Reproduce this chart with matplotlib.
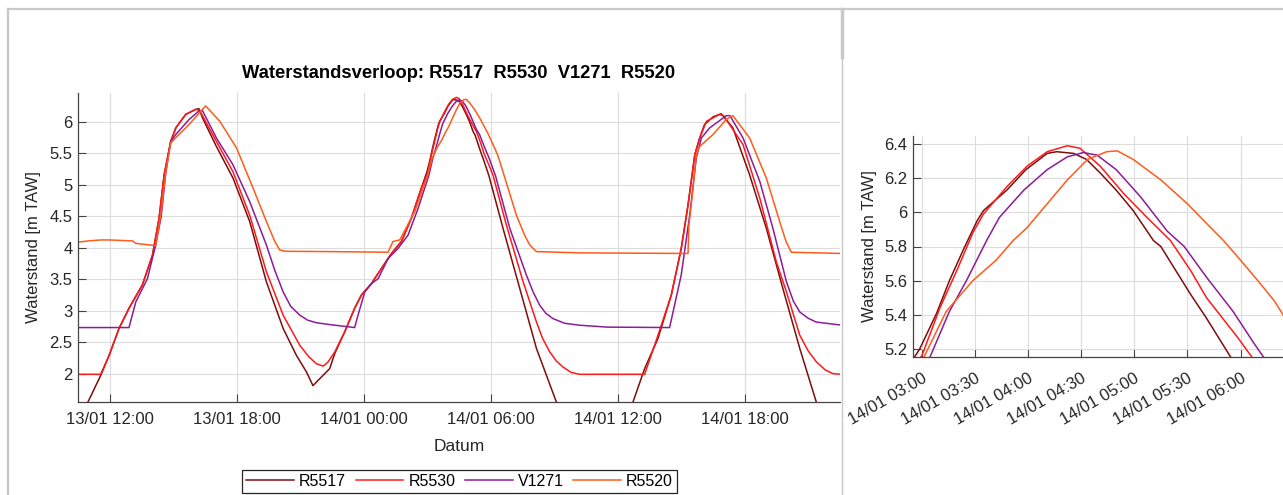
import matplotlib
matplotlib.use("Agg")
import matplotlib.pyplot as plt
import matplotlib.dates as mdates
from matplotlib.lines import Line2D
from matplotlib.ticker import FormatStrFormatter
import pandas as pd

plt.rcParams['font.family'] = ['Liberation Sans', 'DejaVu Sans']

# hours since 13/01 00:00, waterstand [m TAW]
r5517 = [(10.5, 1.22), (10.97, 1.55), (11.57, 1.97), (11.97, 2.29), (12.44, 2.72), (12.91, 3.04),
         (13.54, 3.41), (14.02, 3.885), (14.33, 4.47), (14.57, 5.16), (14.88, 5.69), (15.12, 5.905),
         (15.59, 6.12), (16.06, 6.2), (16.22, 6.21), (16.4, 6.05), (17.04, 5.61), (17.82, 5.11),
         (18.61, 4.42), (19.4, 3.46), (20.19, 2.72), (20.82, 2.29), (21.29, 2.03), (21.6, 1.81),
         (21.92, 1.92), (22.39, 2.08), (22.63, 2.32), (23.1, 2.665), (23.57, 3.04), (23.89, 3.25),
         (24.36, 3.43), (24.83, 3.67), (25.31, 3.91), (25.78, 4.1), (26.25, 4.47), (26.72, 4.95),
         (26.98, 5.2), (27.14, 5.41), (27.26, 5.6), (27.39, 5.78), (27.52, 5.95), (27.58, 6.01),
         (27.8, 6.13), (27.98, 6.25), (28.18, 6.345), (28.27, 6.355), (28.43, 6.345), (28.55, 6.31),
         (28.68, 6.23), (28.83, 6.13), (28.99, 6.01), (29.18, 5.835), (29.25, 5.8), (29.37, 5.68),
         (29.53, 5.52), (29.68, 5.38), (29.91, 5.15), (30.58, 4.31), (31.37, 3.355), (32.16, 2.4),
         (33.1, 1.55), (33.6, 1.2), (36.3, 1.2), (36.72, 1.55), (37.27, 2.08), (37.9, 2.56),
         (38.53, 3.25), (39.0, 3.99), (39.32, 4.68), (39.64, 5.48), (39.87, 5.745), (40.1, 5.96),
         (40.5, 6.08), (40.89, 6.13), (41.44, 5.905), (42.23, 5.16), (43.02, 4.31), (43.8, 3.355),
         (44.6, 2.4), (45.38, 1.55), (46.0, 1.0)]

r5530 = [(10.5, 1.99), (11.57, 1.99), (11.97, 2.29), (12.44, 2.72), (12.91, 3.04), (13.54, 3.41),
         (14.02, 3.885), (14.33, 4.47), (14.57, 5.16), (14.88, 5.69), (15.12, 5.905), (15.59, 6.12),
         (16.06, 6.2), (16.25, 6.18), (17.04, 5.69), (17.82, 5.21), (18.61, 4.52), (19.4, 3.62),
         (20.19, 2.93), (20.98, 2.45), (21.4, 2.27), (21.76, 2.16), (22.08, 2.12), (22.3, 2.18),
         (22.63, 2.345), (23.1, 2.665), (23.57, 3.04), (23.89, 3.25), (24.36, 3.43), (24.83, 3.67),
         (25.31, 3.91), (25.78, 4.1), (26.25, 4.47), (26.72, 4.95), (27.0, 5.16), (27.17, 5.44),
         (27.33, 5.66), (27.48, 5.88), (27.58, 5.99), (27.8, 6.15), (27.99, 6.27), (28.18, 6.355),
         (28.37, 6.39), (28.49, 6.375), (28.68, 6.27), (28.9, 6.11), (29.12, 5.97), (29.34, 5.835),
         (29.53, 5.66), (29.68, 5.5), (29.97, 5.27), (30.11, 5.15), (30.74, 4.36), (31.53, 3.46),
         (32.16, 2.82), (32.45, 2.56), (32.79, 2.345), (33.1, 2.2), (33.41, 2.107), (33.8, 2.02),
         (34.2, 1.99), (37.27, 1.99), (37.9, 2.61), (38.53, 3.25), (39.0, 3.99), (39.32, 4.68),
         (39.64, 5.48), (39.87, 5.745), (40.19, 6.01), (40.81, 6.12), (41.0, 6.1), (41.92, 5.64),
         (42.71, 4.79), (43.49, 3.78), (43.97, 3.3), (44.6, 2.61), (45.0, 2.36), (45.38, 2.19),
         (45.8, 2.06), (46.17, 2.0), (46.6, 1.99)]

v1271 = [(10.5, 2.733), (12.91, 2.733), (13.23, 3.14), (13.78, 3.51), (14.17, 4.045), (14.43, 4.5),
         (14.65, 5.2), (14.88, 5.69), (15.12, 5.8), (15.75, 6.04), (16.2, 6.17), (16.38, 6.18),
         (17.04, 5.745), (17.82, 5.32), (18.61, 4.735), (19.4, 4.045), (19.8, 3.64), (20.19, 3.3),
         (20.55, 3.07), (20.98, 2.93), (21.35, 2.85), (21.76, 2.81), (22.39, 2.78), (23.57, 2.733),
         (23.73, 2.93), (24.05, 3.3), (24.36, 3.43), (24.68, 3.51), (25.15, 3.83), (25.62, 3.99),
         (26.09, 4.2), (26.57, 4.63), (27.075, 5.15), (27.26, 5.42), (27.42, 5.6), (27.61, 5.835),
         (27.73, 5.97), (27.96, 6.13), (28.18, 6.25), (28.37, 6.325), (28.52, 6.35), (28.65, 6.335),
         (28.83, 6.25), (29.06, 6.09), (29.31, 5.89), (29.47, 5.8), (29.68, 5.62), (29.93, 5.42),
         (30.13, 5.23), (30.22, 5.15), (30.9, 4.31), (31.68, 3.57), (32.0, 3.3), (32.31, 3.09),
         (32.6, 2.96), (32.94, 2.875), (33.5, 2.8), (34.2, 2.77), (35.5, 2.74), (38.45, 2.733),
         (39.0, 3.57), (39.4, 4.52), (39.71, 5.43), (39.95, 5.745), (40.34, 5.905), (41.13, 6.1),
         (41.3, 6.1), (41.92, 5.745), (42.71, 5.055), (43.33, 4.31), (43.97, 3.46), (44.3, 3.15),
         (44.6, 2.98), (45.0, 2.88), (45.38, 2.82), (46.6, 2.77)]

r5520 = [(10.5, 4.09), (11.0, 4.11), (11.57, 4.125), (11.97, 4.125), (13.07, 4.11), (13.23, 4.07),
         (14.17, 4.035), (14.41, 4.52), (14.65, 5.21), (14.88, 5.665), (15.12, 5.75), (15.75, 5.96),
         (16.3, 6.17), (16.53, 6.255), (17.2, 6.01), (17.99, 5.586), (18.77, 4.95), (19.4, 4.418),
         (19.8, 4.1), (20.03, 3.965), (20.3, 3.945), (22.39, 3.94), (25.15, 3.93), (25.38, 4.1),
         (25.7, 4.125), (26.41, 4.577), (27.01, 5.14), (27.23, 5.42), (27.48, 5.6), (27.7, 5.72),
         (27.86, 5.835), (27.99, 5.91), (28.18, 6.05), (28.37, 6.19), (28.56, 6.31), (28.74, 6.355),
         (28.84, 6.36), (28.99, 6.31), (29.25, 6.19), (29.5, 6.05), (29.72, 5.91), (29.84, 5.835),
         (30.0, 5.72), (30.19, 5.58), (30.32, 5.48), (30.41, 5.39), (31.21, 4.52), (31.6, 4.2),
         (31.84, 4.045), (32.16, 3.94), (34.2, 3.92), (39.32, 3.91), (39.36, 4.35), (39.56, 4.95),
         (39.71, 5.48), (39.87, 5.61), (40.5, 5.8), (41.13, 6.04), (41.44, 6.1), (42.23, 5.745),
         (43.02, 5.108), (43.65, 4.418), (43.95, 4.1), (44.2, 3.93), (46.6, 3.91)]

names = ['R5517', 'R5530', 'V1271', 'R5520']
colors = ['#7E0D0D', '#FF1A1A', '#8C1C98', '#FF5B1A']
series = [r5517, r5530, v1271, r5520]

base = pd.Timestamp('2023-01-13 00:00')


def to_time(pairs):
    h = [p[0] for p in pairs]
    v = [p[1] for p in pairs]
    return base + pd.to_timedelta(h, unit='h'), v


W, H = 1283, 495
fig = plt.figure(figsize=(W / 100, H / 100), dpi=100)

ax1 = fig.add_axes([78 / W, 1 - 402 / H, 762 / W, 309 / H])
ax2 = fig.add_axes([913 / W, 1 - 357 / H, 370 / W, 221 / H])

handles = []
for s, name, c in zip(series, names, colors):
    t, v = to_time(s)
    ln, = ax1.plot(t, v, color=c, lw=1.1, label=name)
    ax2.plot(t, v, color=c, lw=1.1)
    handles.append(ln)

axcol = '#262626'
for ax in (ax1, ax2):
    ax.spines['top'].set_visible(False)
    ax.spines['right'].set_visible(False)
    for sp in ('left', 'bottom'):
        ax.spines[sp].set_color('#444444')
        ax.spines[sp].set_linewidth(0.9)
    ax.tick_params(direction='in', length=6, width=0.8, color='#444444',
                   labelsize=12, labelcolor=axcol)
    ax.tick_params(axis='x', pad=7)
    ax.tick_params(axis='y', pad=4)
    ax.grid(True, color='#DCDCDC', lw=0.8)
    ax.set_axisbelow(True)
    ax.yaxis.set_major_formatter(FormatStrFormatter('%g'))

ax1.set_xlim(base + pd.Timedelta(hours=10.5), base + pd.Timedelta(hours=46.5))
ax1.set_ylim(1.55, 6.46)
ax1.set_yticks([2, 2.5, 3, 3.5, 4, 4.5, 5, 5.5, 6])
ax1.set_xticks(pd.date_range('2023-01-13 12:00', periods=6, freq='6h'))
ax1.xaxis.set_major_formatter(mdates.DateFormatter('%d/%m %H:%M'))
ax1.set_xlabel('Datum', fontsize=12.5, color=axcol, labelpad=9)
ax1.set_ylabel('Waterstand [m TAW]', fontsize=12, color=axcol)
ax1.yaxis.set_label_coords(-0.049, 0.5)

ax2.set_xlim(base + pd.Timedelta(hours=26.917), base + pd.Timedelta(hours=30.4))
ax2.set_ylim(5.153, 6.447)
ax2.set_yticks([5.2, 5.4, 5.6, 5.8, 6.0, 6.2, 6.4])
ax2.set_xticks(pd.date_range('2023-01-14 03:00', periods=7, freq='30min'))
ax2.xaxis.set_major_formatter(mdates.DateFormatter('%d/%m %H:%M'))
ax2.tick_params(axis='x', pad=10)
for lab in ax2.get_xticklabels():
    lab.set_rotation(30)
    lab.set_ha('right')
    lab.set_rotation_mode('anchor')
ax2.set_ylabel('Waterstand [m TAW]', fontsize=12, color=axcol)
ax2.yaxis.set_label_coords(-0.097, 0.5)

fig.text(459 / W, 1 - 73 / H, 'Waterstandsverloop: R5517  R5530  V1271  R5520',
         ha='center', va='center', fontsize=13.2, fontweight='bold', color='black')

leg = fig.legend(handles=handles, labels=names, loc='center', ncol=4,
                 bbox_to_anchor=(459.5 / W, 1 - 481.5 / H), fontsize=11.5,
                 handlelength=3.0, handletextpad=0.3, columnspacing=0.6,
                 borderpad=0.25, fancybox=False, framealpha=1)
leg.get_frame().set_edgecolor('#262626')
leg.get_frame().set_linewidth(0.9)

# page frame around the two panels
frame = '#C8C8C8'
fig.add_artist(Line2D([8 / W, 1], [1 - 9 / H, 1 - 9 / H], transform=fig.transFigure, color=frame, lw=1.6))
fig.add_artist(Line2D([8 / W, 8 / W], [0, 1 - 9 / H], transform=fig.transFigure, color=frame, lw=1.6))
fig.add_artist(Line2D([842 / W, 842 / W], [0, 1 - 9 / H], transform=fig.transFigure, color=frame, lw=1.0))
fig.add_artist(Line2D([842 / W, 842 / W], [1 - 57 / H, 1 - 9 / H], transform=fig.transFigure, color=frame, lw=2.5))

fig.savefig('out.png', dpi=100)
